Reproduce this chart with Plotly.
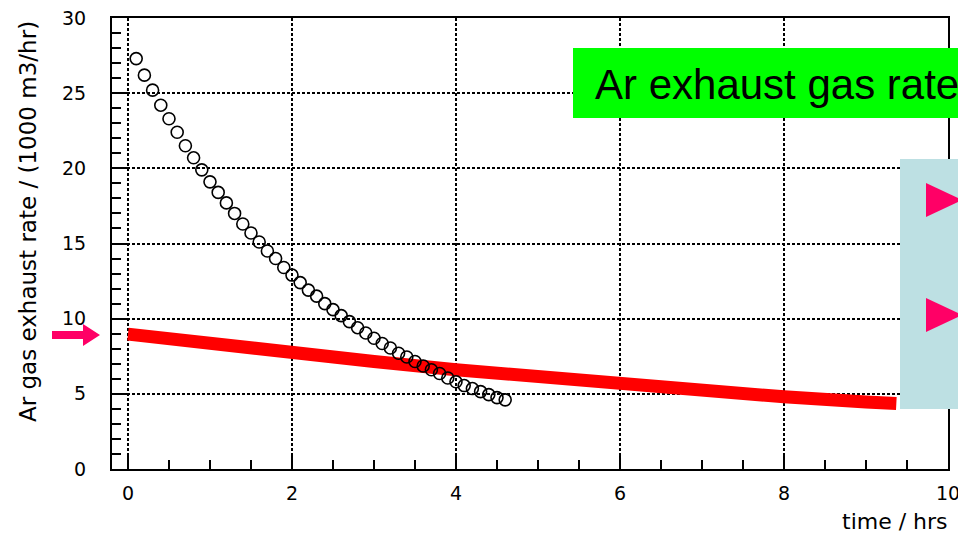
import plotly.graph_objects as go

# Measured exhaust rate (open circles)
meas_time = [0.1, 0.2, 0.3, 0.4, 0.5, 0.6, 0.7, 0.8, 0.9, 1.0,
             1.1, 1.2, 1.3, 1.4, 1.5, 1.6, 1.7, 1.8, 1.9, 2.0,
             2.1, 2.2, 2.3, 2.4, 2.5, 2.6, 2.7, 2.8, 2.9, 3.0,
             3.1, 3.2, 3.3, 3.4, 3.5, 3.6, 3.7, 3.8, 3.9, 4.0,
             4.1, 4.2, 4.3, 4.4, 4.5, 4.6]
meas_rate = [27.3, 26.2, 25.2, 24.2, 23.3, 22.4, 21.5, 20.7, 19.9, 19.1,
             18.4, 17.7, 17.0, 16.3, 15.7, 15.1, 14.5, 14.0, 13.4, 12.9,
             12.4, 11.9, 11.5, 11.0, 10.6, 10.2, 9.8, 9.4, 9.05, 8.7,
             8.35, 8.05, 7.7, 7.45, 7.15, 6.85, 6.6, 6.35, 6.05, 5.8,
             5.55, 5.35, 5.15, 4.95, 4.75, 4.6]

# Reference rate (thick red band)
ref_time = [0, 1, 2, 3, 4, 5, 6, 7, 8, 9, 9.37]
ref_rate = [8.97, 8.3, 7.7, 7.15, 6.6, 6.1, 5.65, 5.2, 4.8, 4.45, 4.35]

x_ticks = [0, 2, 4, 6, 8, 10]
y_ticks = [0, 5, 10, 15, 20, 25, 30]

W, H = 958, 534
L, R, T, B = 112, 10, 18, 65
PW, PH = W - L - R, H - T - B


def px(x):
    return (x - L) / PW


def py(y):
    return (H - B - y) / PH


fig = go.Figure()

fig.add_trace(go.Scatter(
    x=ref_time, y=ref_rate, mode="lines",
    line=dict(color="#FF0000", width=13),
    hoverinfo="skip", showlegend=False,
))
fig.add_trace(go.Scatter(
    x=meas_time, y=meas_rate, mode="markers",
    marker=dict(symbol="circle-open", size=12, color="black",
                line=dict(width=1.6, color="black")),
    showlegend=False,
))

axis_common = dict(
    showline=True, linecolor="black", linewidth=2, mirror=True,
    ticks="inside", tickcolor="black", tickwidth=1.5, ticklen=15,
    showgrid=True, gridcolor="black", gridwidth=1.5, griddash="3px,2px",
    zeroline=False, ticklabeloverflow="allow", automargin=False,
    tickfont=dict(family="DejaVu Sans", size=19, color="black"),
)

fig.update_xaxes(
    range=[-0.195, 10.0001], tickvals=x_ticks,
    minor=dict(dtick=0.5, ticks="inside", ticklen=9, tickcolor="black",
               tickwidth=1.5, showgrid=False),
    ticklabelstandoff=6,
    **axis_common,
)
fig.update_yaxes(
    range=[0, 30], tickvals=y_ticks,
    minor=dict(dtick=1, ticks="inside", ticklen=9, tickcolor="black",
               tickwidth=1.5, showgrid=False),
    ticklabelstandoff=20,
    **axis_common,
)

pink = "#FF0066"
shapes = [
    # green title banner
    dict(type="rect", xref="paper", yref="paper",
         x0=px(573), x1=px(970), y0=py(118), y1=py(48),
         fillcolor="#00FF00", line=dict(width=0), layer="above"),
    # light blue side panel
    dict(type="rect", xref="paper", yref="paper",
         x0=px(900), x1=px(970), y0=py(409), y1=py(159),
         fillcolor="#BDE0E3", line=dict(width=0), layer="above"),
]


def poly(points):
    d = "M " + " L ".join(f"{px(a):.5f},{py(b):.5f}" for a, b in points) + " Z"
    return dict(type="path", xref="paper", yref="paper", path=d,
                fillcolor=pink, line=dict(width=0), layer="above")


shapes.append(poly([(926, 183), (962, 200), (926, 217)]))
shapes.append(poly([(926, 298), (962, 315), (926, 332)]))
# marker arrow pointing at the reference level
shapes.append(poly([(52, 331), (83, 331), (83, 324), (100, 335),
                    (83, 346), (83, 339), (52, 339)]))

annotations = [
    dict(text="Ar exhaust gas rate", xref="paper", yref="paper",
         x=px(593), y=py(84), xanchor="left", yanchor="middle",
         showarrow=False,
         font=dict(family="Liberation Sans, Arial", size=42, color="black")),
    dict(text="Ar gas exhaust rate / (1000 m3/hr)", xref="paper", yref="paper",
         x=px(28), y=py(222), xanchor="center", yanchor="middle",
         textangle=-90, showarrow=False,
         font=dict(family="DejaVu Sans", size=23, color="black")),
    dict(text="time / hrs", xref="paper", yref="paper",
         x=px(950), y=py(521), xanchor="right", yanchor="middle",
         showarrow=False,
         font=dict(family="DejaVu Sans", size=22, color="black")),
]

fig.update_layout(
    width=W, height=H,
    margin=dict(l=L, r=R, t=T, b=B, pad=0, autoexpand=False),
    paper_bgcolor="white", plot_bgcolor="white",
    shapes=shapes, annotations=annotations,
    showlegend=False,
)

fig.write_html("out.html")
